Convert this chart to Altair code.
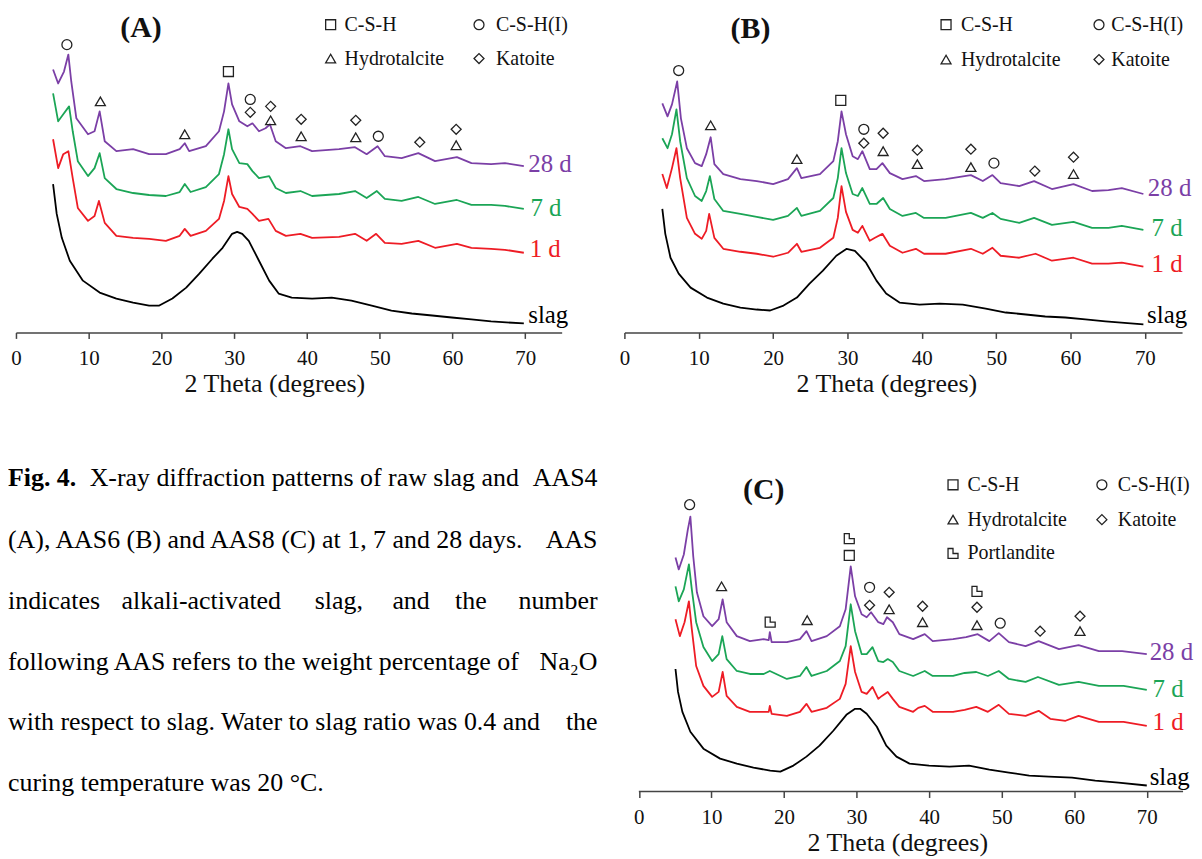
import altair as alt
import pandas as pd

FONT = "Liberation Serif"
SERIES = ["28 d", "7 d", "1 d", "slag"]
COLORS = ["#7B3FA6", "#1BA556", "#EE1C25", "#000000"]
PHASES = ["C-S-H", "C-S-H(I)", "Hydrotalcite", "Katoite", "Portlandite"]
PORTL = "M-1,-1H0V0H1V1H-1Z"
SHAPES = ["square", "circle", "triangle-up", "diamond", PORTL]
SHAPE_OF = dict(zip(PHASES, SHAPES))
TICKS = [0, 10, 20, 30, 40, 50, 60, 70]
AXIS_C = "#444444"

# ---------------- Panel A (AAS4) ----------------
A_28 = [(5.1,264),(5.8,250),(6.6,262),(7.2,279),(7.6,252),(8.3,215),(9.9,199),(10.8,202),(11.5,222),(12.2,192),
        (13.8,182),(16.1,184),(18.3,179),(20.6,179),(22.5,184),(23.2,190),(23.8,182),(26.1,187),(27.9,202),(28.6,222),
        (29.2,250),(29.7,229),(30.7,212),(31.8,207),(32.5,210),(33.4,202),(34.3,205),(34.9,209),(35.7,192),(37.1,185),
        (39.1,187),(40.7,182),(44.4,184),(46.6,186),(48.2,179),(49.7,187),(50.7,177),(53.0,175),(55.3,180),(57.6,172),
        (60.6,176),(62.6,170),(65.3,169),(67.2,170),(69.8,167)]
A_7 = [(5.1,240),(5.8,212),(6.5,219),(7.3,227),(7.8,202),(8.5,172),(9.9,157),(10.8,165),(11.5,180),(12.2,155),
       (13.8,144),(16.1,140),(18.3,138),(20.6,137),(22.5,141),(23.2,149),(24.0,141),(26.1,146),(27.9,159),(28.6,179),
       (29.2,204),(29.7,184),(30.7,170),(31.8,169),(32.5,162),(33.4,155),(34.8,157),(35.7,145),(37.1,140),(39.1,142),
       (40.7,137),(44.4,139),(46.6,142),(48.2,135),(49.6,142),(50.7,134),(53.0,132),(55.3,136),(57.6,129),(60.6,133),
       (62.6,128),(65.3,128),(67.2,127),(69.8,124)]
A_1 = [(5.1,194),(5.8,165),(6.5,179),(7.2,182),(7.8,155),(8.5,125),(9.9,112),(10.8,117),(11.4,132),(12.2,110),
       (13.8,97),(16.1,95),(18.3,94),(20.6,92),(22.5,97),(23.2,104),(24.0,97),(26.1,102),(27.9,114),(28.6,132),
       (29.2,157),(29.7,139),(30.7,126),(31.8,124),(32.5,119),(33.4,112),(34.7,114),(35.7,102),(37.1,97),(39.1,99),
       (40.7,95),(44.4,96),(46.6,99),(48.2,92),(49.5,99),(50.7,90),(53.0,89),(55.3,92),(57.6,85),(60.6,89),
       (62.6,85),(65.3,84),(67.2,83),(69.8,80)]
A_slag = [(5.1,149),(5.6,119),(6.3,95),(7.4,72),(9.2,52),(11.5,40),(13.8,34),(16.1,30),(18.3,27),(19.7,27),
          (21.5,34),(23.4,45),(25.2,59),(27.0,74),(28.4,85),(29.7,99),(30.4,101),(31.1,99),(32.0,92),(33.4,72),
          (34.8,52),(36.1,39),(37.9,35),(40.7,34),(43.4,35),(46.1,32),(48.9,27),(51.6,22),(54.4,19),(57.2,17),
          (59.9,15),(62.6,13),(65.3,11),(69.8,9)]
A_peaks = [("C-S-H(I)",7.0,289),("Hydrotalcite",11.6,232),("Hydrotalcite",23.2,199),("C-S-H",29.2,262),
           ("C-S-H(I)",32.2,234),("Katoite",32.2,221),("Katoite",35.0,227),("Hydrotalcite",35.0,213),
           ("Katoite",39.2,214),("Hydrotalcite",39.2,197),("Katoite",46.7,213),("Hydrotalcite",46.7,196),
           ("C-S-H(I)",49.8,197),("Katoite",55.5,191),("Katoite",60.5,204),("Hydrotalcite",60.5,188)]
A_labels = [("28 d",70.4,169),("7 d",70.7,125),("1 d",70.6,84),("slag",70.4,17)]

# ---------------- Panel B (AAS6) ----------------
B_28 = [(5.1,230),(5.8,217),(6.4,229),(7.1,252),(7.6,215),(8.4,185),(9.5,170),(10.4,167),(11.0,179),(11.6,196),
        (12.1,169),(13.3,159),(15.6,154),(17.8,152),(20.0,149),(22.0,154),(23.2,165),(23.8,155),(26.3,159),(28.1,172),
        (28.7,192),(29.2,222),(29.8,199),(30.7,177),(31.4,174),(32.0,182),(33.0,164),(33.9,164),(34.7,170),(35.7,160),
        (37.4,154),(39.2,157),(40.3,152),(43.2,154),(46.6,158),(48.2,152),(49.5,158),(50.6,150),(53.1,147),(55.1,152),
        (57.5,144),(60.4,149),(62.9,142),(65.1,143),(66.9,145),(69.8,139)]
B_7 = [(5.1,195),(5.8,185),(6.4,199),(7.0,224),(7.5,192),(8.4,155),(9.5,137),(10.4,132),(11.0,142),(11.5,157),
       (12.1,134),(13.3,122),(15.6,119),(17.8,116),(20.0,113),(22.0,117),(23.2,125),(23.8,117),(26.3,122),(28.1,135),
       (28.7,155),(29.2,185),(29.8,160),(30.7,139),(31.4,137),(32.0,145),(33.0,129),(33.9,129),(34.8,135),(35.7,124),
       (37.4,117),(39.2,120),(40.3,115),(43.2,115),(46.6,120),(48.2,115),(49.5,120),(50.6,114),(53.1,110),(55.1,115),
       (57.5,108),(60.4,111),(62.9,105),(65.1,105),(66.9,107),(69.8,103)]
B_1 = [(5.1,159),(5.7,145),(6.4,165),(7.0,185),(7.5,155),(8.4,115),(9.5,99),(10.4,94),(11.0,102),(11.4,119),
       (12.1,95),(13.3,84),(15.6,81),(17.8,79),(20.0,76),(22.0,80),(23.2,89),(23.8,81),(26.3,85),(28.1,95),
       (28.7,115),(29.2,147),(29.8,121),(30.7,103),(31.4,100),(32.0,107),(33.0,92),(33.7,95),(34.7,99),(35.7,87),
       (37.4,80),(39.2,84),(40.3,79),(43.2,79),(46.6,84),(48.2,79),(49.5,85),(50.6,77),(53.1,75),(55.3,79),
       (57.5,72),(60.4,75),(62.9,69),(65.1,69),(66.9,70),(69.8,66)]
B_slag = [(5.1,124),(5.5,99),(6.2,75),(7.3,59),(8.9,45),(11.1,35),(13.3,29),(15.6,25),(17.8,23),(19.6,22),
          (21.4,27),(23.2,35),(24.9,49),(26.7,62),(28.5,77),(29.9,84),(31.0,82),(32.5,70),(33.9,52),(35.2,39),
          (37.0,30),(39.7,28),(42.4,29),(45.5,28),(48.6,24),(51.3,20),(54.0,18),(56.6,16),(59.3,15),(62.0,13),
          (64.7,11),(69.8,8)]
B_peaks = [("C-S-H(I)",7.3,263),("Hydrotalcite",11.6,208),("Hydrotalcite",23.2,174),("C-S-H",29.1,233),
           ("C-S-H(I)",32.2,204),("Katoite",32.2,190),("Katoite",34.8,200),("Hydrotalcite",34.8,182),
           ("Katoite",39.4,183),("Hydrotalcite",39.4,169),("Katoite",46.6,184),("Hydrotalcite",46.6,166),
           ("C-S-H(I)",49.7,170),("Katoite",55.2,162),("Katoite",60.4,176),("Hydrotalcite",60.4,159)]
B_labels = [("28 d",70.4,145),("7 d",70.9,105),("1 d",70.9,69),("slag",70.3,17)]

# ---------------- Panel C (AAS8) ----------------
C_28 = [(5.05,235),(5.5,223),(6.2,238),(6.75,263),(7.1,276),(7.5,236),(8.0,200),(8.9,176),(10.1,166),(11.0,173),
        (11.55,193),(12.1,170),(13.5,156),(15.3,151),(17.2,153),(17.9,152),(18.05,160),(18.3,150),(20.4,150),(22.2,153),
        (23.1,161),(23.8,151),(25.9,156),(27.7,166),(28.5,183),(29.2,226),(29.8,196),(30.7,178),(31.4,175),(32.0,180),
        (33.0,170),(33.7,168),(34.2,175),(35.0,170),(35.9,158),(37.8,153),(39.4,158),(40.5,151),(43.3,153),(45.1,155),
        (46.7,158),(48.3,151),(49.6,159),(51.0,150),(53.3,146),(55.1,151),(57.9,143),(60.6,147),(63.4,141),(66.6,141),
        (70.0,138)]
C_7 = [(5.05,206),(5.5,191),(6.2,203),(6.9,228),(7.3,203),(7.9,170),(8.9,145),(10.1,131),(11.0,138),(11.5,156),
       (12.1,133),(13.5,121),(15.3,118),(17.2,118),(18.05,121),(20.4,113),(22.2,116),(23.1,125),(23.8,116),(25.9,121),
       (27.7,131),(28.5,146),(29.2,188),(29.8,161),(30.7,138),(31.4,138),(32.2,145),(33.0,131),(33.7,130),(34.3,133),
       (35.0,130),(35.9,121),(37.8,116),(39.4,121),(40.5,116),(43.3,116),(44.9,119),(46.5,120),(48.1,116),(49.6,121),
       (51.0,113),(53.3,110),(55.0,115),(57.9,107),(60.6,110),(63.4,106),(66.8,106),(70.0,102)]
C_1 = [(5.05,173),(5.65,156),(6.3,170),(6.9,191),(7.3,163),(7.9,126),(8.9,106),(10.1,95),(11.0,100),(11.55,120),
       (12.1,96),(13.5,85),(15.3,80),(17.2,80),(17.9,80),(18.05,86),(18.3,78),(20.4,76),(22.2,80),(23.1,88),
       (23.8,80),(25.9,84),(27.7,93),(28.5,108),(29.2,146),(29.8,120),(30.7,100),(31.4,98),(32.2,105),(33.0,93),
       (33.5,96),(34.3,100),(35.0,93),(35.9,85),(37.8,80),(38.5,84),(39.4,86),(40.5,80),(43.3,80),(44.9,82),
       (46.5,85),(48.1,80),(49.6,87),(51.0,78),(53.3,76),(55.1,81),(56.7,73),(58.8,71),(60.6,76),(63.4,70),
       (66.8,70),(70.0,66)]
C_slag = [(5.05,123),(5.4,100),(6.0,80),(7.1,60),(8.9,43),(11.2,33),(13.5,28),(15.8,24),(18.1,21),(19.5,20),
          (21.3,26),(23.1,35),(24.9,46),(26.8,61),(28.6,77),(29.8,83),(30.5,83),(31.4,78),(32.8,65),(34.1,46),
          (35.5,35),(37.3,28),(40.0,26),(42.8,25),(45.5,26),(48.3,22),(51.0,19),(53.8,16),(56.5,15),(59.7,14),
          (62.9,11),(66.1,9),(70.0,6)]
C_peaks = [("C-S-H(I)",7.0,288),("Hydrotalcite",11.4,206),("Portlandite",18.1,170),("Hydrotalcite",23.2,172),
           ("Portlandite",29.0,254),("C-S-H",29.0,237),("C-S-H(I)",31.8,205),("Katoite",31.8,187),
           ("Katoite",34.5,200),("Hydrotalcite",34.5,183),("Katoite",39.1,186),("Hydrotalcite",39.1,170),
           ("Portlandite",46.6,201),("Katoite",46.6,185),("Hydrotalcite",46.6,167),("C-S-H(I)",49.8,169),
           ("Katoite",55.3,161),("Katoite",60.8,176),("Hydrotalcite",60.8,161)]
C_labels = [("28 d",70.4,140),("7 d",70.8,103),("1 d",70.8,70),("slag",70.4,15)]

LEGEND_4 = [("C-S-H",0,0),("C-S-H(I)",1,0),("Hydrotalcite",0,1),("Katoite",1,1)]
LEGEND_5 = LEGEND_4 + [("Portlandite",0,2)]

CAPTION_BOLD = "Fig. 4."
CAPTION = [
    ["X-ray diffraction patterns of raw slag and", "AAS4"],
    ["(A), AAS6 (B) and AAS8 (C) at 1, 7 and 28 days.", "AAS"],
    ["indicates", "alkali-activated", "slag,", "and", "the", "number"],
    ["following AAS refers to the weight percentage of", "Na\u2082O"],
    ["with respect to slag. Water to slag ratio was 0.4 and", "the"],
    ["curing temperature was 20 \u00b0C."],
]
CAPTION_X = [
    [74],
    [-8],
    [-8, 106, 300, 378, 441],
    [-8],
    [-8],
    [-8],
]

ONE = pd.DataFrame({"k": [0]})


def make_panel(series_list, peaks, labels, legend, tag, tag_xy, sym_x, text_x, rows_y,
               width, height, title_x, xdomain, own_baseline=False):
    rows = []
    for name, pts in zip(SERIES, series_list):
        for x, y in pts:
            rows.append({"series": name, "x": x, "y": y})
    df = pd.DataFrame(rows)
    xaxis = alt.Axis(values=TICKS, format="d", tickSize=6, tickWidth=1.5, tickColor=AXIS_C,
                     domain=not own_baseline, domainColor=AXIS_C, domainWidth=1.5,
                     labelFont=FONT, labelFontSize=21,
                     labelColor="#111111", labelPadding=9, labelFlush=False, labelOverlap=False,
                     grid=False, title="2 Theta (degrees)", titleFont=FONT, titleFontSize=26,
                     titleFontWeight="normal", titleColor="#111111", titleX=title_x, titleY=59,
                     titleAlign="center", titleBaseline="alphabetic", titleAngle=0)
    X = alt.X("x:Q", scale=alt.Scale(domain=xdomain, nice=False, zero=False), axis=xaxis)
    Y = alt.Y("y:Q", scale=alt.Scale(domain=[0, height], nice=False, zero=False), axis=None)
    color = alt.Color("series:N", scale=alt.Scale(domain=SERIES, range=COLORS), legend=None)

    layers = []
    if own_baseline:
        layers.append(alt.Chart(ONE).mark_rule(color=AXIS_C, strokeWidth=1.5).encode(
            x=alt.datum(0), x2=alt.datum(75), y=alt.value(height)))

    lines = alt.Chart(df).mark_line(strokeWidth=1.8, strokeJoin="round").encode(x=X, y=Y, color=color)

    pk = pd.DataFrame(peaks, columns=["phase", "x", "y"])
    marks = alt.Chart(pk).mark_point(filled=False, size=100, strokeWidth=1.3, color="#222222",
                                     opacity=1).encode(
        x=X, y=Y,
        shape=alt.Shape("phase:N", scale=alt.Scale(domain=PHASES, range=SHAPES), legend=None))

    lb = pd.DataFrame(labels, columns=["series", "x", "y"])
    ltxt = alt.Chart(lb).mark_text(align="left", baseline="middle", font=FONT, fontSize=25).encode(
        x=X, y=Y, text="series:N", color=color)

    layers += [lines, marks, ltxt]
    for phase, col, row in legend:
        layers.append(alt.Chart(ONE).mark_point(shape=SHAPE_OF[phase], filled=False, size=100,
                                                strokeWidth=1.3, color="#222222", opacity=1).encode(
            x=alt.value(sym_x[col]), y=alt.value(rows_y[row])))
        layers.append(alt.Chart(ONE).mark_text(text=phase, align="left", baseline="middle",
                                               font=FONT, fontSize=20, color="#111111").encode(
            x=alt.value(text_x[col]), y=alt.value(rows_y[row])))
    layers.append(alt.Chart(ONE).mark_text(text=tag, align="center", baseline="middle", font=FONT,
                                           fontSize=30, fontWeight="bold", color="#111111").encode(
        x=alt.value(tag_xy[0]), y=alt.value(tag_xy[1])))
    return alt.layer(*layers).properties(width=width, height=height)


pA = make_panel([A_28, A_7, A_1, A_slag], A_peaks, A_labels, LEGEND_4, "(A)", (125.6, 18),
                [316, 465], [330, 482], [15, 49], 548, 324, 259.5, [0, 75])
pB = make_panel([B_28, B_7, B_1, B_slag], B_peaks, B_labels, LEGEND_4, "(B)", (126.6, 19),
                [323, 476.6], [338, 489], [15, 50], 560, 324, 263, [0, 75])
# panel C shares the right column with B but its axis starts 14.5 px further right
pC = make_panel([C_28, C_7, C_1, C_slag], C_peaks, C_labels, LEGEND_5, "(C)", (140, 28),
                [330, 479.5], [344.5, 495.5], [23, 58, 92], 560, 331, 274, [-1.99, 74.86],
                own_baseline=True)


def ctext(s, x, y, align="left", weight="normal"):
    return alt.Chart(ONE).mark_text(text=s, align=align, baseline="middle", font=FONT, fontSize=26,
                                    fontWeight=weight, color="#000000").encode(
        x=alt.value(x), y=alt.value(y))


LINE_Y = [16, 78, 140, 201, 261, 323]
cap_layers = [ctext(CAPTION_BOLD, -8, LINE_Y[0], weight="bold")]
for i, (words, xs) in enumerate(zip(CAPTION, CAPTION_X)):
    for w, x in zip(words, xs):
        cap_layers.append(ctext(w, x, LINE_Y[i]))
    if len(words) > len(xs):
        cap_layers.append(ctext(words[-1], 584, LINE_Y[i], align="right"))
caption = alt.layer(*cap_layers).properties(width=548, height=331)

chart = alt.concat(
    pA, pB, caption, pC, columns=2,
    spacing=alt.RowColnumber(row=130, column=63), bounds="flush"
).resolve_scale(
    x="independent", y="independent", color="independent", shape="independent"
).properties(
    padding={"left": 0, "top": 0, "right": 0, "bottom": 0}
).configure_view(stroke=None)

chart.save("out.html", embed_options={"renderer": "svg", "actions": False})
